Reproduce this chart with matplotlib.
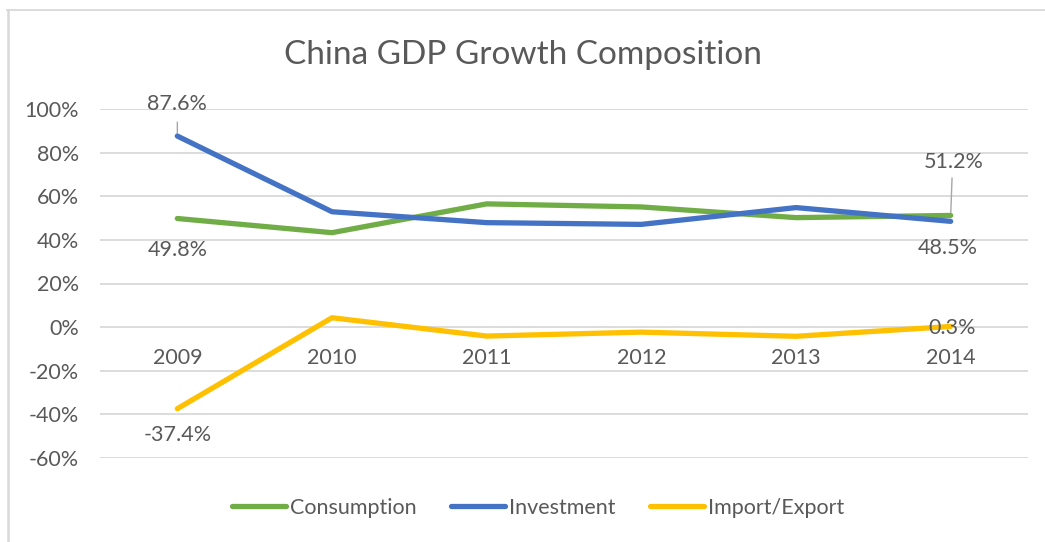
import numpy as np
import matplotlib.pyplot as plt
from matplotlib.lines import Line2D

# China GDP growth composition, share of growth
years = ["2009", "2010", "2011", "2012", "2013", "2014"]
consumption = [49.8, 43.3, 56.5, 55.1, 50.2, 51.2]
investment = [87.6, 52.9, 47.9, 47.1, 54.8, 48.5]
import_export = [-37.4, 4.3, -4.1, -2.3, -4.2, 0.3]

green = "#70AD47"
blue = "#4472C4"
yellow = "#FFC000"
text_col = "#595959"
grid_col = "#D9D9D9"
fs = 15.5

plt.rcParams["font.family"] = ["Lato", "DejaVu Sans"]

fig = plt.figure(figsize=(10.45, 5.42), dpi=100)
ax = fig.add_axes([100 / 1045, 1 - 458 / 542, 928 / 1045, 349 / 542])

x = np.arange(len(years))
ax.plot(x, np.array(consumption) / 100, color=green, lw=3.8, solid_capstyle="round", label="Consumption", zorder=3)
ax.plot(x, np.array(investment) / 100, color=blue, lw=3.8, solid_capstyle="round", label="Investment", zorder=4)
ax.plot(x, np.array(import_export) / 100, color=yellow, lw=3.8, solid_capstyle="round", label="Import/Export", zorder=3)

ax.set_xlim(-0.5, len(years) - 0.5)
ax.set_ylim(-0.6, 1.0)
ax.set_yticks(np.arange(-0.6, 1.01, 0.2))
ax.set_yticklabels([f"{v:.0f}%" for v in np.arange(-60, 101, 20)], color=text_col, fontsize=fs)
ax.yaxis.grid(True, color=grid_col, lw=1.3)
ax.set_axisbelow(True)
ax.set_xticks([])
ax.tick_params(axis="y", length=0, pad=15)
for s in ax.spines.values():
    s.set_visible(False)

# category labels sit below the zero line
for i, yr in enumerate(years):
    ax.annotate(yr, (i, 0), xytext=(0, -22), textcoords="offset points",
                ha="center", va="center", color=text_col, fontsize=fs)

def label(i, val, dy, dx=0, leader=None):
    ax.annotate(f"{val}%", (i, val / 100), xytext=(dx, dy), textcoords="offset points",
                ha="center", va="center", color=text_col, fontsize=fs, zorder=6)
    if leader is not None:
        ax.annotate("", (i, val / 100), xytext=(dx * 0.5, leader), textcoords="offset points",
                    arrowprops=dict(arrowstyle="-", color="#A6A6A6", lw=1, shrinkA=0, shrinkB=2))

label(0, investment[0], 23, leader=10)
label(0, consumption[0], -22.5)
label(0, import_export[0], -19)
label(5, consumption[5], 38.5, dx=2, leader=27)
label(5, investment[5], -19.5, dx=-2)
label(5, import_export[5], -1, dx=1)

fig.text(0.5, 1 - 55 / 542, "China GDP Growth Composition", ha="center", va="center",
         color=text_col, fontsize=24)

handles = [Line2D([], [], color=c, lw=3.8, solid_capstyle="round") for c in (green, blue, yellow)]
fig.legend(handles, ["Consumption", "Investment", "Import/Export"], loc="center",
           bbox_to_anchor=(0.515, 1 - 508 / 542), ncol=3, frameon=False, fontsize=fs,
           handlelength=2.5, handletextpad=0.2, columnspacing=1.6, labelcolor=text_col)

# chart border (top and left visible)
fig.add_artist(Line2D([7 / 1045, 1], [1 - 10 / 542, 1 - 10 / 542], color=grid_col, lw=1.3))
fig.add_artist(Line2D([7.5 / 1045, 7.5 / 1045], [0, 1 - 10 / 542], color=grid_col, lw=1.8))

fig.savefig("out.png", dpi=100)
